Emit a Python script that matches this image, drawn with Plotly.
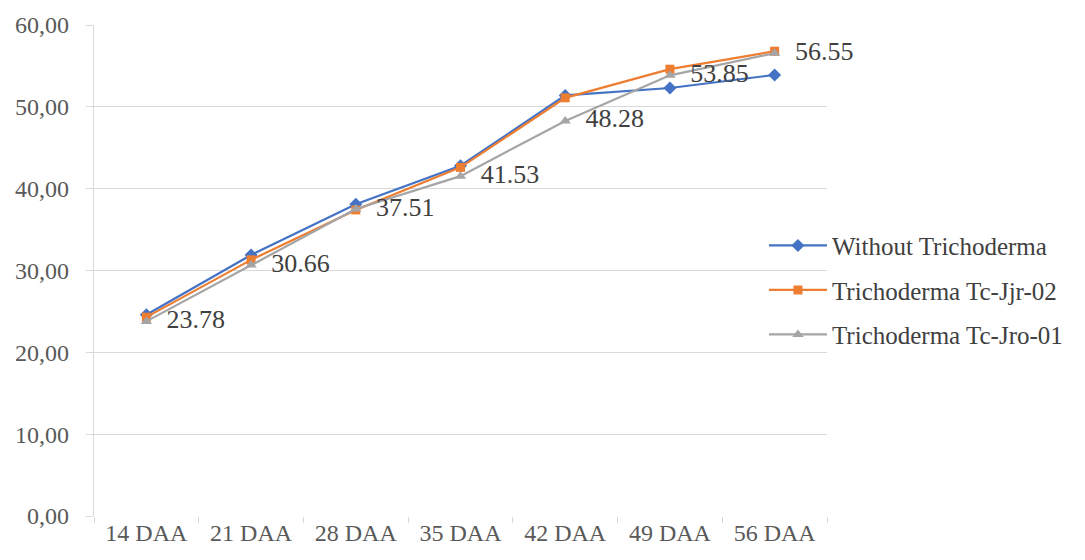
import plotly.graph_objects as go

categories = ["14 DAA", "21 DAA", "28 DAA", "35 DAA", "42 DAA", "49 DAA", "56 DAA"]
without_tricho = [24.6, 31.9, 38.1, 42.8, 51.4, 52.3, 53.9]
tc_jjr_02 = [24.3, 31.3, 37.4, 42.6, 51.1, 54.6, 56.8]
tc_jro_01 = [23.78, 30.66, 37.51, 41.53, 48.28, 53.85, 56.55]
y_ticks = [0, 10, 20, 30, 40, 50, 60]
y_tick_text = ["0,00", "10,00", "20,00", "30,00", "40,00", "50,00", "60,00"]

FONT = "Liberation Serif"
GRID = "#d9d9d9"
TEXT = "#595959"

fig = go.Figure()

fig.add_trace(go.Scatter(
    x=categories, y=without_tricho, name="Without Trichoderma",
    mode="lines+markers", legendgroup="a",
    line=dict(color="#4472C4", width=2.2),
    marker=dict(symbol="diamond", size=10, color="#4472C4"),
))
fig.add_trace(go.Scatter(
    x=categories, y=tc_jjr_02, name="Trichoderma Tc-Jjr-02",
    mode="lines+markers", legendgroup="b",
    line=dict(color="#ED7D31", width=2.2),
    marker=dict(symbol="square", size=9, color="#ED7D31"),
))
fig.add_trace(go.Scatter(
    x=categories, y=tc_jro_01, name="Trichoderma Tc-Jro-01",
    mode="lines+markers+text", legendgroup="c",
    line=dict(color="#A5A5A5", width=2.2),
    marker=dict(symbol="triangle-up", size=10, color="#A5A5A5"),
    text=["\u00a0\u00a0" + f"{v:.2f}" for v in tc_jro_01],
    textposition="middle right",
    textfont=dict(family=FONT, size=26, color="#404040"),
    cliponaxis=False,
))

fig.update_layout(
    width=1085, height=560,
    margin=dict(l=94, r=258, t=20, b=44),
    paper_bgcolor="white", plot_bgcolor="white",
    font=dict(family=FONT, size=24, color=TEXT),
    showlegend=True,
    legend=dict(
        x=0.914, xanchor="left", y=0.46, yanchor="middle",
        traceorder="grouped", tracegroupgap=9,
        font=dict(family=FONT, size=25, color="#404040"),
        itemwidth=58, bgcolor="rgba(0,0,0,0)",
    ),
    xaxis=dict(
        type="category", range=[-0.5, 6.5],
        showgrid=False, showline=False, zeroline=False,
        ticks="outside", tickson="boundaries", ticklen=6, tickcolor=GRID,
        tickfont=dict(family=FONT, size=24, color=TEXT),
    ),
    yaxis=dict(
        range=[0, 60], tickvals=y_ticks, ticktext=y_tick_text,
        showgrid=True, gridcolor=GRID, gridwidth=1.3,
        showline=True, linecolor=GRID, linewidth=1.3,
        zeroline=False,
        ticks="outside", ticklen=7, tickcolor=GRID,
        ticklabelstandoff=12,
        tickfont=dict(family=FONT, size=24, color=TEXT),
    ),
)

fig.write_html("out.html")
